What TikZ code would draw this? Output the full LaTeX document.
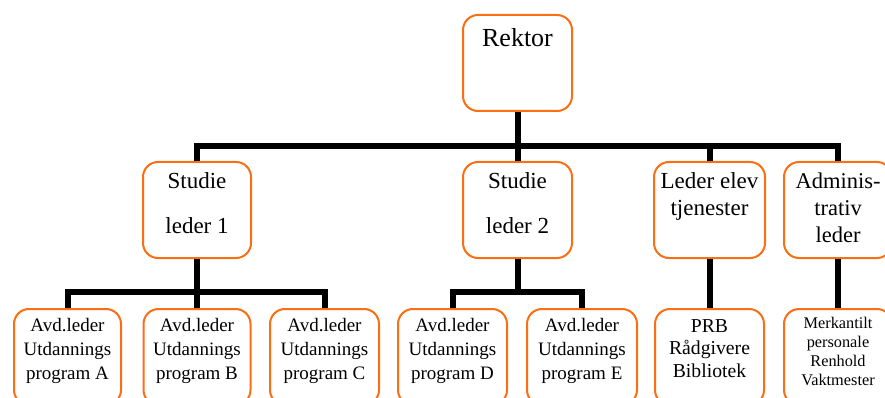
\documentclass[tikz,border=0pt]{standalone}
\usepackage{fontspec}
\setmainfont{Liberation Serif}
\definecolor{boxorange}{RGB}{250,110,20}
\tikzset{
  orgbox/.style={draw=boxorange, line width=2pt, rounded corners=15pt, fill=white,
    inner sep=0pt, anchor=north, minimum width=#1, minimum height=96pt},
  conn/.style={line width=6pt, draw=black}
}
% #1 width, #2 font size, #3 leading, #4 first baseline below top (pt), #5 text
\newcommand{\boxtext}[5]{\parbox[t][96pt][t]{#1}{\centering\fontsize{#2}{#3}\selectfont\rule{0pt}{#4pt}#5}}
\begin{document}
\begin{tikzpicture}[x=1pt, y=-1pt]
\useasboundingbox (0,0) rectangle (885,398);
\clip (0,0) rectangle (885,398);

% top level
\node[orgbox=109pt] (rektor) at (517.5,14) {\boxtext{100pt}{26}{30}{32}{Rektor}};

% second level
\node[orgbox=108pt] (sl1) at (197,161) {\boxtext{100pt}{23}{45}{26}{Studie\\leder 1}};
\node[orgbox=109pt] (sl2) at (517.5,161) {\boxtext{100pt}{23}{45}{26}{Studie\\leder 2}};
\node[orgbox=111pt] (le) at (709.5,161) {\boxtext{105pt}{23}{27}{26}{Leder elev\\tjenester}};
\node[orgbox=108pt] (al) at (838,161) {\boxtext{100pt}{22.5}{27}{26}{Adminis-\\trativ\\leder}};

% third level
\node[orgbox=107pt] (pa) at (67.5,308) {\boxtext{100pt}{19}{24}{22}{Avd.leder\\Utdannings\\program A}};
\node[orgbox=107pt] (pb) at (197,308) {\boxtext{100pt}{19}{24}{22}{Avd.leder\\Utdannings\\program B}};
\node[orgbox=109pt] (pc) at (324.5,308) {\boxtext{100pt}{19}{24}{22}{Avd.leder\\Utdannings\\program C}};
\node[orgbox=109pt] (pd) at (452.5,308) {\boxtext{100pt}{19}{24}{22}{Avd.leder\\Utdannings\\program D}};
\node[orgbox=110pt] (pe) at (582,308) {\boxtext{100pt}{19}{24}{22}{Avd.leder\\Utdannings\\program E}};
\node[orgbox=109pt] (prb) at (709.5,308) {\boxtext{100pt}{19.7}{22.5}{23}{PRB\\Rådgivere\\Bibliotek}};
\node[orgbox=108pt] (merk) at (838,308) {\boxtext{100pt}{16.3}{19.3}{19}{Merkantilt\\personale\\Renhold\\Vaktmester}};

% connectors
\foreach \child in {sl1, sl2, le, al}
  \draw[conn] (rektor.south) -- ++(0,34) -| (\child.north);
\foreach \child in {pa, pb, pc}
  \draw[conn] (sl1.south) -- ++(0,33) -| (\child.north);
\foreach \child in {pd, pe}
  \draw[conn] (sl2.south) -- ++(0,33) -| (\child.north);
\draw[conn] (le.south) -- (prb.north);
\draw[conn] (al.south) -- (merk.north);
\end{tikzpicture}
\end{document}
